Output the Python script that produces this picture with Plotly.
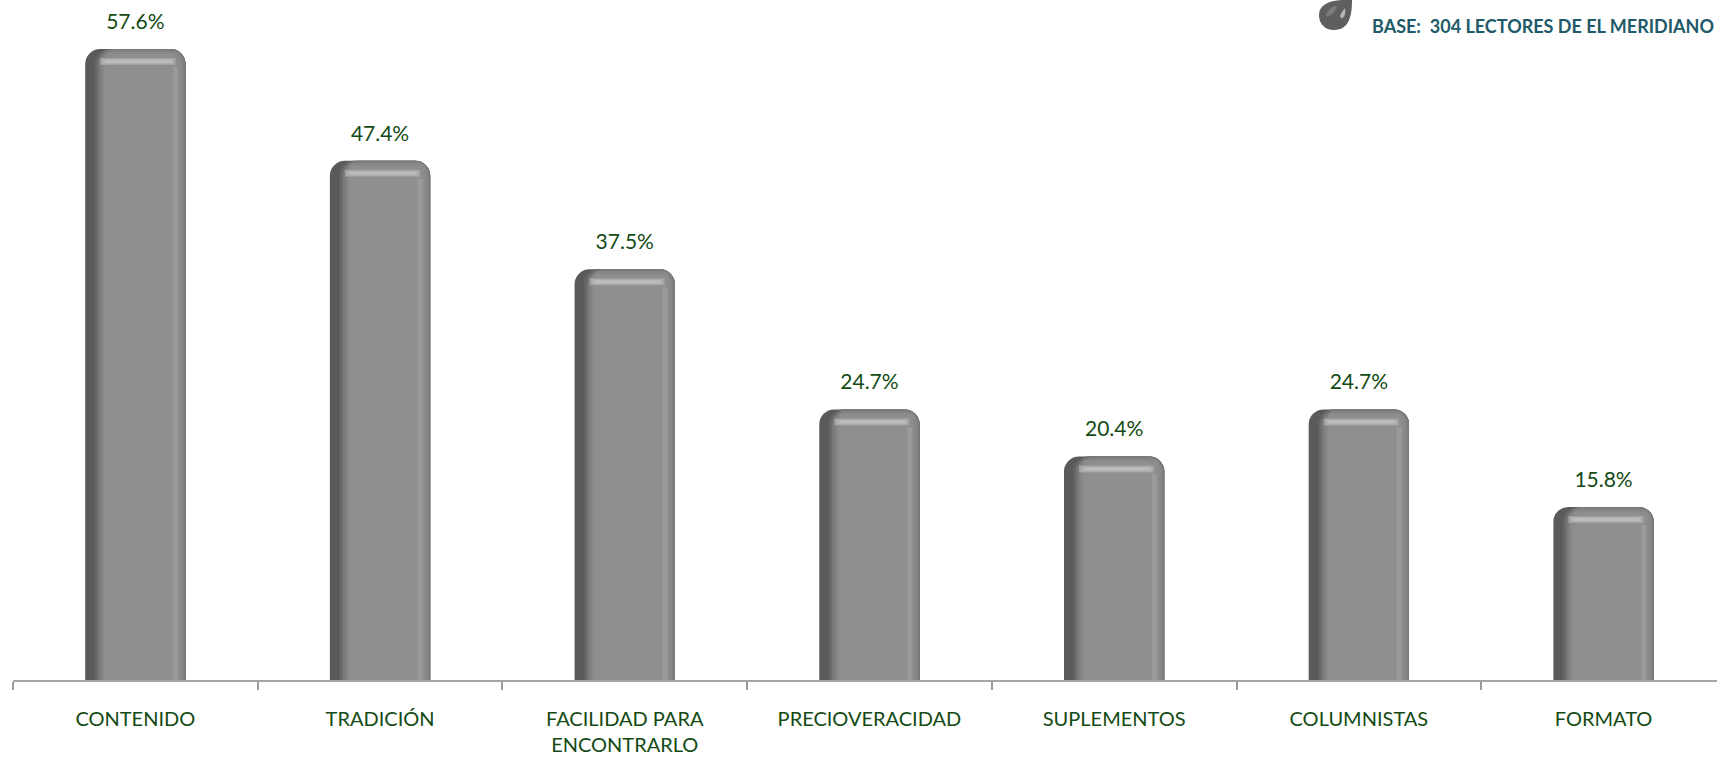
import plotly.graph_objects as go

categories = ["CONTENIDO", "TRADICIÓN", "FACILIDAD PARA<br>ENCONTRARLO", "PRECIOVERACIDAD",
              "SUPLEMENTOS", "COLUMNISTAS", "FORMATO"]
values = [57.6, 47.4, 37.5, 24.7, 20.4, 24.7, 15.8]
labels = ["57.6%", "47.4%", "37.5%", "24.7%", "20.4%", "24.7%", "15.8%"]

GREEN = "#134a14"
W = 0.41
PX_X = 244.7          # pixels per category
PLOT_W, PLOT_H = 1704, 680
Y_MAX = 62.08
PX_Y = PLOT_H / Y_MAX  # pixels per value unit

# bevel layers: left, right, top inset (px), colour, corner radius
layers = [(0, 0, 0, "#5a5a5a", 15), (9, 0, 0, "#636363", 15), (11, 0, 0, "#6c6c6c", 15),
          (13, 0, 0, "#7a7a7a", 15), (15, 1, 1, "#7f7f7f", 14), (16, 2, 2, "#838383", 13),
          (17, 3, 3, "#878787", 12), (18, 4, 4, "#8a8a8a", 11), (19, 6, 5, "#8d8d8d", 10),
          (20, 8, 6, "#8f8f8f", 9), (21, 11, 7, "#8f8f8f", 8)]
# highlight strips: left, right, top offset, thickness (px), colour
strips = [(15, 10, 9, 7, "#a2a2a2"), (17, 12, 10, 5, "#b0b0b0"), (20, 14, 11, 3, "#bcbcbc")]
# light vertical band near the right edge: right inset, width, top inset (px), colour
bands = [(7, 6, 18, "#959595"), (8, 4, 18, "#9b9b9b")]

fig = go.Figure()
for left, right, top, col, rad in layers:
    fig.add_trace(go.Bar(x=categories, y=[v - top / PX_Y for v in values],
                         width=W - (left + right) / PX_X, offset=[-W / 2 + left / PX_X] * 7,
                         marker=dict(color=col, line_width=0, cornerradius=rad),
                         hoverinfo="skip", showlegend=False))
for right, wid, top, col in bands:
    fig.add_trace(go.Bar(x=categories, y=[v - top / PX_Y for v in values], width=wid / PX_X,
                         offset=[W / 2 - (right + wid) / PX_X] * 7, marker=dict(color=col, line_width=0),
                         hoverinfo="skip", showlegend=False))
for left, right, top, thick, col in strips:
    fig.add_trace(go.Bar(x=categories, y=[thick / PX_Y] * 7,
                         base=[v - (top + thick) / PX_Y for v in values],
                         width=W - (left + right) / PX_X, offset=[-W / 2 + left / PX_X] * 7,
                         marker=dict(color=col, line_width=0),
                         hoverinfo="skip", showlegend=False))
# value labels, centred above each bar
fig.add_trace(go.Scatter(x=categories, y=[v + 25.5 / PX_Y for v in values], mode="text", text=labels,
                         textposition="middle center",
                         textfont=dict(family="Lato", size=21, color=GREEN), hoverinfo="skip",
                         showlegend=False, cliponaxis=False))


def pp(px, py):
    return f"{(px - 13) / PLOT_W:.5f} {(PLOT_H - py) / PLOT_H:.5f}"


drop = (f"M {pp(1352, 0)} C {pp(1352, 14)} {pp(1350, 30)} {pp(1334, 30)} "
        f"C {pp(1325, 30)} {pp(1319, 24)} {pp(1319, 15)} C {pp(1319, 3)} {pp(1333, -1)} {pp(1352, 0)} Z")
glint1 = (f"M {pp(1337, 6)} C {pp(1331, 6)} {pp(1327, 11)} {pp(1326, 16)} "
          f"C {pp(1331, 17)} {pp(1335, 12)} {pp(1337, 6)} Z")
glint2 = (f"M {pp(1345, 8)} C {pp(1342, 12)} {pp(1339, 15)} {pp(1341, 18)} "
          f"C {pp(1344, 19)} {pp(1346, 14)} {pp(1345, 8)} Z")

fig.update_layout(
    width=1717, height=758, barmode="overlay", plot_bgcolor="white", paper_bgcolor="white",
    margin=dict(l=13, r=0, t=0, b=78), showlegend=False,
    font=dict(family="Lato", color=GREEN),
    xaxis=dict(type="category", range=[-0.5, -0.5 + PLOT_W / PX_X], tickson="boundaries", ticks="outside",
               ticklen=8, tickcolor="#9a9a9a", tickwidth=1.5, showline=True, linecolor="#a6a6a6", linewidth=2,
               showgrid=False, tickfont=dict(family="Lato", size=20, color=GREEN), ticklabelstandoff=20),
    yaxis=dict(range=[0, Y_MAX], visible=False, showgrid=False, zeroline=False),
    annotations=[dict(text="<b>BASE:  304 LECTORES DE EL MERIDIANO</b>", xref="paper", yref="paper",
                      x=0.9995, y=1, yshift=-26, xanchor="right", yanchor="middle", showarrow=False,
                      font=dict(family="Lato", size=18, color="#215968"))],
    shapes=[dict(type="path", xref="paper", yref="paper", layer="above", fillcolor=c, line_width=0, path=p)
            for p, c in [(drop, "#5f5f5f"), (glint1, "#7c7c7c"), (glint2, "#b8b8b8")]],
)
fig.write_html("out.html", config={"displayModeBar": False},
               post_script="document.body.style.margin='0';")
